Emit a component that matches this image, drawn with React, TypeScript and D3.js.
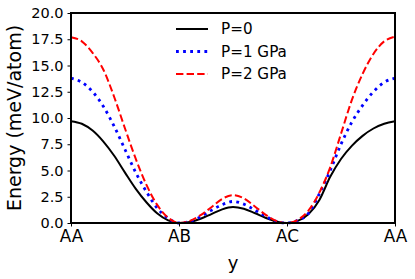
import { useEffect, useRef } from 'react'
import * as d3 from 'd3'

// path coordinate (0 = AA, 1 = AB, 2 = AC, 3 = AA)
const pathPos = [
  0, 0.1, 0.2, 0.3, 0.4, 0.5, 0.6, 0.7, 0.8, 0.9,
  1, 1.1, 1.2, 1.3, 1.4, 1.5, 1.6, 1.7, 1.8, 1.9,
  2, 2.1, 2.2, 2.3, 2.4, 2.5, 2.6, 2.7, 2.8, 2.9, 3,
]

const energyP0 = [
  9.7, 9.45, 8.8, 7.75, 6.4, 4.8, 3.25, 1.95, 0.9, 0.25,
  0.0, 0.1, 0.4, 0.85, 1.3, 1.52, 1.35, 0.95, 0.5, 0.15,
  0.0, 0.2, 0.85, 2.2, 4.4, 6.1, 7.35, 8.3, 9.0, 9.45, 9.7,
]
const energyP1 = [
  13.8, 13.4, 12.5, 11.1, 9.2, 7.0, 4.8, 2.95, 1.4, 0.45,
  0.0, 0.15, 0.6, 1.2, 1.75, 2.05, 1.8, 1.25, 0.65, 0.15,
  0.0, 0.25, 0.95, 2.8, 5.0, 7.5, 9.6, 11.2, 12.5, 13.4, 13.8,
]
const energyP2 = [
  17.7, 17.3, 16.2, 14.6, 12.0, 9.0, 6.1, 3.6, 1.7, 0.5,
  0.0, 0.2, 0.75, 1.5, 2.3, 2.65, 2.35, 1.6, 0.8, 0.2,
  0.0, 0.3, 1.2, 2.9, 5.3, 8.5, 11.7, 14.2, 16.1, 17.3, 17.75,
]

const xTickPos = [0, 1, 2, 3]
const xTickLabels = ['AA', 'AB', 'AC', 'AA']
const yTicks = [0, 2.5, 5, 7.5, 10, 12.5, 15, 17.5, 20]

const seriesNames = ['P=0', 'P=1 GPa', 'P=2 GPa']
const seriesData = [energyP0, energyP1, energyP2]
const seriesColors = ['#000000', '#0000ff', '#ff0000']
const seriesWidths = [2, 2.8, 2]
const seriesDash = [null, '2.8,4.3', '7.4,3.2']

const W = 415
const H = 279
const MARGIN = { top: 13, right: 20, bottom: 56, left: 71 }
const FONT = 'DejaVu Sans, sans-serif'

export default function App() {
  const svgRef = useRef<SVGSVGElement>(null)

  useEffect(() => {
    const svg = svgRef.current
    if (!svg) return
    d3.select(svg).selectAll('*').remove()

    const innerW = W - MARGIN.left - MARGIN.right
    const innerH = H - MARGIN.top - MARGIN.bottom

    const x = d3.scaleLinear().domain([0, 3]).range([0, innerW])
    const y = d3.scaleLinear().domain([0, 20]).range([innerH, 0])

    const g = d3.select(svg)
      .append('g')
      .attr('transform', `translate(${MARGIN.left},${MARGIN.top})`)

    // curves
    const line = d3.line<number>()
      .x((_, i) => x(pathPos[i]))
      .y(d => y(d))
      .curve(d3.curveMonotoneX)

    seriesData.forEach((vals, k) => {
      const p = g.append('path')
        .datum(vals)
        .attr('fill', 'none')
        .attr('stroke', seriesColors[k])
        .attr('stroke-width', seriesWidths[k])
        .attr('d', line)
      if (seriesDash[k]) p.attr('stroke-dasharray', seriesDash[k])
    })

    // x axis
    g.append('g')
      .attr('transform', `translate(0,${innerH})`)
      .call(
        d3.axisBottom(x)
          .tickValues(xTickPos)
          .tickSize(3.5)
          .tickPadding(4)
          .tickFormat((_, i) => xTickLabels[i]),
      )
      .call(sel => sel.select('.domain').remove())
      .call(sel => sel.selectAll('line').attr('stroke', '#000').attr('stroke-width', 1))
      .call(sel => sel.selectAll('text').attr('fill', '#000').style('font-size', '16.8px').style('font-family', FONT))

    // y axis
    g.append('g')
      .call(
        d3.axisLeft(y)
          .tickValues(yTicks)
          .tickSize(3.5)
          .tickPadding(4)
          .tickFormat(d3.format('.1f')),
      )
      .call(sel => sel.select('.domain').remove())
      .call(sel => sel.selectAll('line').attr('stroke', '#000').attr('stroke-width', 1))
      .call(sel => sel.selectAll('text').attr('fill', '#000').style('font-size', '14.5px').style('font-family', FONT))

    // frame
    g.append('rect')
      .attr('width', innerW)
      .attr('height', innerH)
      .attr('fill', 'none')
      .attr('stroke', '#000')
      .attr('stroke-width', 2)

    // axis labels
    g.append('text')
      .attr('x', innerW / 2)
      .attr('y', innerH + 46)
      .attr('text-anchor', 'middle')
      .style('font-family', FONT)
      .style('font-size', '18px')
      .text('y')

    g.append('text')
      .attr('transform', `translate(${21 - MARGIN.left},${innerH / 2}) rotate(-90)`)
      .attr('text-anchor', 'middle')
      .style('font-family', FONT)
      .style('font-size', '19px')
      .text('Energy (meV/atom)')

    // legend
    const leg = g.append('g').attr('transform', `translate(${176 - MARGIN.left},${29 - MARGIN.top})`)
    seriesNames.forEach((name, k) => {
      const row = leg.append('g').attr('transform', `translate(0,${k * 22.5})`)
      const l = row.append('line')
        .attr('x1', 0).attr('x2', 32)
        .attr('stroke', seriesColors[k])
        .attr('stroke-width', seriesWidths[k])
      if (seriesDash[k]) l.attr('stroke-dasharray', seriesDash[k])
      row.append('text')
        .attr('x', 45)
        .attr('dy', '0.36em')
        .style('font-family', FONT)
        .style('font-size', '15.2px')
        .text(name)
    })
  }, [])

  return (
    <svg
      ref={svgRef}
      width={W}
      height={H}
      style={{ position: 'absolute', left: 0, top: 0, background: '#fff' }}
    />
  )
}
